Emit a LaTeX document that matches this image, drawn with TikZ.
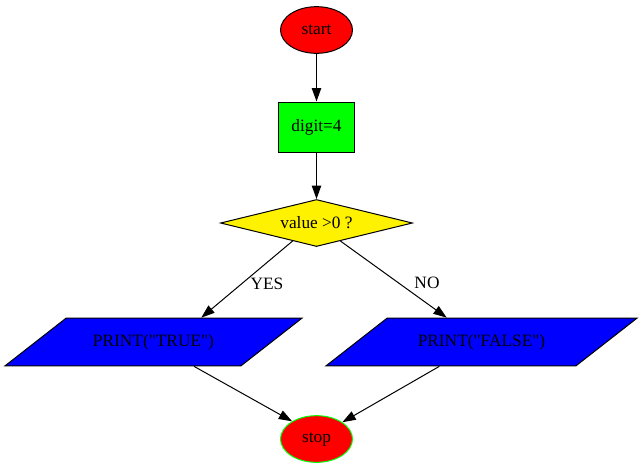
\documentclass[tikz,border=0pt]{standalone}
\usepackage{fontspec}
\setmainfont{Liberation Serif}[Ligatures=TeXOff]
\usetikzlibrary{
    arrows.meta,
    shapes.geometric
}
\tikzset{
    flowarrow /.tip = {Triangle[length=10pt,width=7pt]}
  }

\begin{document}
\begin{tikzpicture}[x=0.75pt,y=-0.75pt,line width=0.75pt,
		font=\fontsize{13}{15}\selectfont,
		terminal/.style={ellipse,draw,fill=red,inner sep=0pt,minimum width=54pt,minimum height=35pt},
		process/.style={rectangle,draw,fill=green,inner sep=0pt,minimum width=57pt,minimum height=37.5pt},
		decision/.style={diamond,draw,fill=yellow,inner sep=0pt,aspect=4.1,minimum width=144pt,minimum height=35.25pt},
		output/.style={trapezium,trapezium left angle=38,trapezium right angle=142,trapezium stretches body,
			draw,fill=blue,inner xsep=0pt,inner ysep=12pt},
		flow/.style={-flowarrow}]
				\useasboundingbox (0,0) rectangle (642,469);
				\node at (316.5,30) [terminal] (start) {start};
				\node at (316.5,127) [process] (digit) {digit=4};
				\node at (316.5,223) [decision] (test) {value >0 ?};
				\node at (153.5,342) [output,minimum width=222.75pt] (true) {PRINT("TRUE")};
				\node at (481.5,342) [output,minimum width=233.25pt] (false) {PRINT("FALSE")};
				\node at (316.5,439) [terminal,draw=green] (stop) {stop};
				\draw[flow] (start) -- (digit);
				\draw[flow] (digit) -- (test);
				\draw[flow] (test.217) -- (true.27);
				\draw[flow] (test.323) -- (false.145);
				\draw[flow] (true.-31) -- (stop.144);
				\draw[flow] (false.210) -- (stop.33);
				\node at (267,284) (yes) {YES};
				\node at (427,283) (no) {NO};
			\end{tikzpicture}
\end{document}
